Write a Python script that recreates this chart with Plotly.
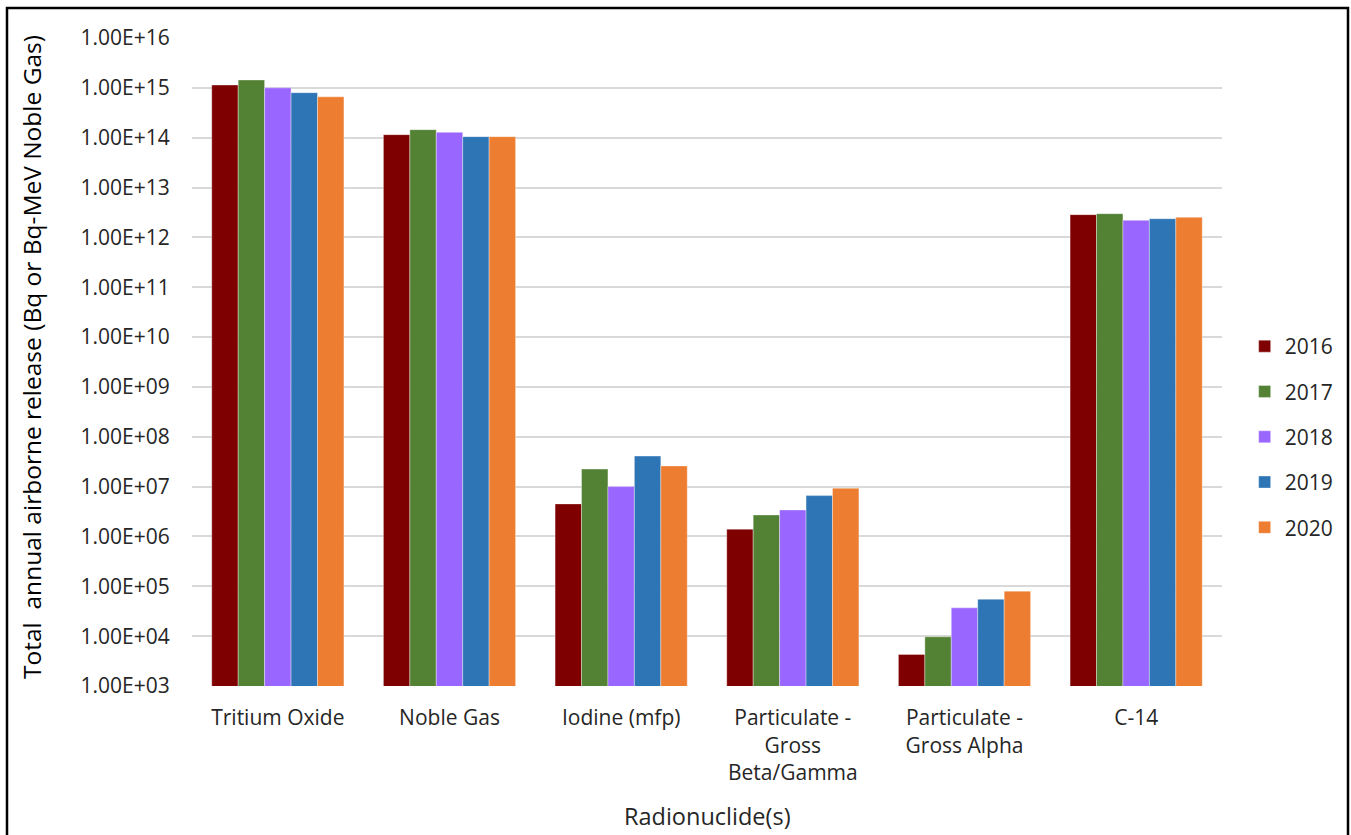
import plotly.graph_objects as go

# Radionuclide groups and annual airborne releases per year
categories = [
    "Tritium Oxide",
    "Noble Gas",
    "Iodine (mfp)",
    "Particulate -<br>Gross<br>Beta/Gamma",
    "Particulate -<br>Gross Alpha",
    "C-14",
]
years = ["2016", "2017", "2018", "2019", "2020"]

release_2016 = [1.14e15, 1.15e14, 4.5e6, 1.4e6, 4.3e3, 2.86e12]
release_2017 = [1.44e15, 1.45e14, 2.25e7, 2.7e6, 9.7e3, 2.99e12]
release_2018 = [1.00e15, 1.28e14, 1.0e7, 3.4e6, 3.7e4, 2.20e12]
release_2019 = [8.0e14, 1.05e14, 4.1e7, 6.6e6, 5.5e4, 2.37e12]
release_2020 = [6.6e14, 1.05e14, 2.6e7, 9.3e6, 8.0e4, 2.53e12]

series = [release_2016, release_2017, release_2018, release_2019, release_2020]
colors = ["#7F0000", "#548235", "#9966FF", "#2E75B6", "#ED7D31"]

tick_values = [1e3, 1e4, 1e5, 1e6, 1e7, 1e8, 1e9, 1e10, 1e11, 1e12, 1e13, 1e14, 1e15, 1e16]
tick_labels = [
    "1.00E+03", "1.00E+04", "1.00E+05", "1.00E+06", "1.00E+07",
    "1.00E+08", "1.00E+09", "1.00E+10", "1.00E+11", "1.00E+12",
    "1.00E+13", "1.00E+14", "1.00E+15", "1.00E+16",
]

FONT = "Open Sans"
TEXT = "#262626"

fig = go.Figure()
for year, values, color in zip(years, series, colors):
    fig.add_trace(go.Bar(
        name=year,
        x=categories,
        y=values,
        marker=dict(color=color, line=dict(color="rgba(255,255,255,0.6)", width=0.6)),
        legendgroup=year,
    ))

fig.update_layout(
    width=1351,
    height=835,
    margin=dict(l=192, r=129, t=38, b=149, autoexpand=False),
    paper_bgcolor="white",
    plot_bgcolor="white",
    barmode="group",
    bargap=0.23,
    bargroupgap=0,
    font=dict(family=FONT, color=TEXT, size=21),
    legend=dict(
        x=1.022, xanchor="left",
        y=(686 - 437) / 648, yanchor="middle",
        font=dict(family=FONT, size=21, color=TEXT),
        tracegroupgap=15,
        itemwidth=30,
        bgcolor="rgba(0,0,0,0)",
    ),
    showlegend=True,
)

fig.update_xaxes(
    showgrid=False,
    showline=False,
    ticks="outside",
    ticklen=13,
    tickcolor="rgba(0,0,0,0)",
    tickfont=dict(family=FONT, size=21, color=TEXT),
)

fig.update_yaxes(
    type="log",
    range=[3, 16],
    tickvals=tick_values,
    ticktext=tick_labels,
    showgrid=True,
    gridcolor="#D9D9D9",
    gridwidth=1.6,
    zeroline=False,
    showline=False,
    ticks="outside",
    ticklen=17,
    tickcolor="rgba(0,0,0,0)",
    tickfont=dict(family=FONT, size=21, color=TEXT),
)

# Axis titles
fig.add_annotation(
    text="Total  annual airborne release (Bq or Bq-MeV Noble Gas)",
    xref="paper", yref="paper",
    x=(31 - 192) / 1030, y=(686 - 357) / 648,
    xanchor="center", yanchor="middle",
    textangle=-90, showarrow=False,
    font=dict(family=FONT, size=24.5, color="black"),
)
fig.add_annotation(
    text="Radionuclide(s)",
    xref="paper", yref="paper",
    x=0.5, y=(686 - 816) / 648,
    xanchor="center", yanchor="middle",
    showarrow=False,
    font=dict(family=FONT, size=23.5, color=TEXT),
)

# Outer frame around the chart
fig.add_shape(
    type="rect",
    xref="paper", yref="paper",
    x0=(7 - 192) / 1030, x1=(1348 - 192) / 1030,
    y0=-0.4, y1=1 + (38 - 8) / 648,
    line=dict(color="black", width=2.5),
    fillcolor="rgba(0,0,0,0)",
    layer="above",
)

fig.write_html("out.html")
